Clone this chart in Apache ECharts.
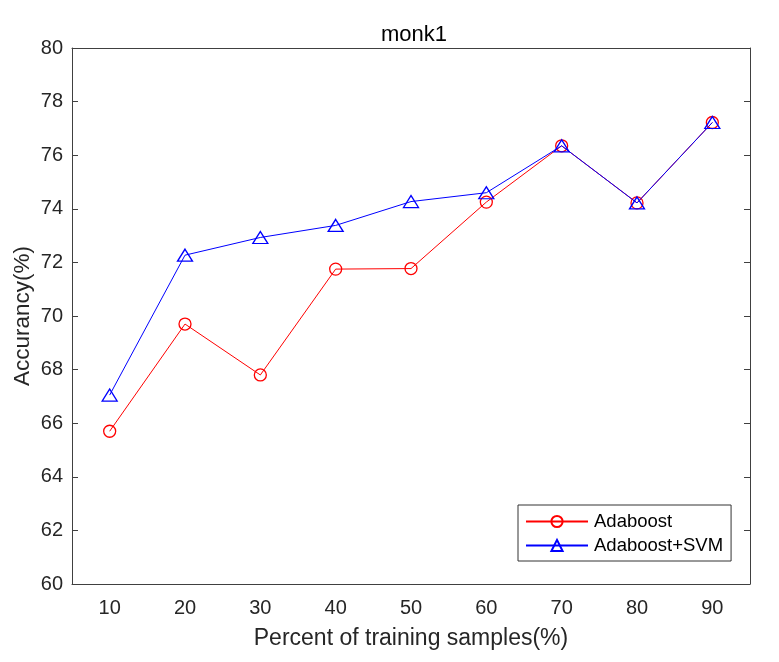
<!DOCTYPE html>
<html>
<head>
<meta charset="utf-8">
<script src="https://cdn.jsdelivr.net/npm/echarts@6/dist/echarts.min.js"></script>
<style>
  html, body { margin: 0; padding: 0; background: #fff; }
  #chart { width: 779px; height: 662px; }
</style>
</head>
<body>
<div id="chart"></div>
<script>
// monk1 accuracy vs. training samples
const categories = ['10', '20', '30', '40', '50', '60', '70', '80', '90'];
const adaboost = [65.7, 69.7, 67.8, 71.75, 71.77, 74.25, 76.35, 74.22, 77.22];
const adaboostSvm = [67.05, 72.27, 72.93, 73.38, 74.27, 74.6, 76.35, 74.22, 77.22];
const yMin = 60, yMax = 80, yStep = 2;

const FONT = '"Liberation Sans", Arial, Helvetica, sans-serif';
const AXIS = '#404040';

const chart = echarts.init(document.getElementById('chart'));

const baseX = {
  type: 'category',
  data: categories,
  boundaryGap: true,
  axisLine: { lineStyle: { color: AXIS, width: 1 } },
  axisTick: { inside: true, alignWithLabel: true, length: 6, lineStyle: { color: AXIS } },
  splitLine: { show: false },
};
const baseY = {
  type: 'value',
  min: yMin,
  max: yMax,
  interval: yStep,
  axisLine: { show: true, lineStyle: { color: AXIS, width: 1 } },
  axisTick: { show: true, inside: true, length: 6, lineStyle: { color: AXIS } },
  splitLine: { show: false },
};

chart.setOption({
  animation: false,
  backgroundColor: '#fff',
  textStyle: { fontFamily: FONT },
  title: {
    text: 'monk1',
    left: 409,
    textAlign: 'center',
    top: 19,
    textStyle: { fontSize: 22, fontWeight: 'normal', color: '#000', fontFamily: FONT },
  },
  grid: { left: 72, right: 29, top: 48, bottom: 78 },
  legend: {
    orient: 'vertical',
    left: 518,
    top: 505,
    width: 212,
    padding: [7, 8, 6, 7],
    itemGap: 5,
    itemWidth: 62,
    itemHeight: 14,
    borderColor: '#333',
    borderWidth: 1,
    borderRadius: 0,
    backgroundColor: '#fff',
    textStyle: { fontSize: 18.5, color: '#000', fontFamily: FONT, padding: [0, 0, 0, 1] },
    data: ['Adaboost', 'Adaboost+SVM'],
  },
  xAxis: [
    Object.assign({}, baseX, {
      position: 'bottom',
      name: 'Percent of training samples(%)',
      nameLocation: 'middle',
      nameGap: 43,
      nameMoveOverlap: false,
      nameTextStyle: { fontSize: 23, color: '#262626', fontFamily: FONT },
      axisLabel: { fontSize: 20, color: '#262626', margin: 14, fontFamily: FONT },
    }),
    Object.assign({}, baseX, { position: 'top', axisLabel: { show: false } }),
  ],
  yAxis: [
    Object.assign({}, baseY, {
      position: 'left',
      name: 'Accurancy(%)',
      nameLocation: 'middle',
      nameGap: 38,
      nameMoveOverlap: false,
      nameTextStyle: { fontSize: 22.5, color: '#262626', fontFamily: FONT },
      axisLabel: { fontSize: 20, color: '#262626', margin: 9, fontFamily: FONT },
    }),
    Object.assign({}, baseY, { position: 'right', axisLabel: { show: false } }),
  ],
  series: [
    {
      name: 'Adaboost',
      type: 'line',
      data: adaboost,
      symbol: 'circle',
      symbolSize: 12,
      lineStyle: { color: '#ff0000', width: 1 },
      itemStyle: { color: 'rgba(255,255,255,0)', borderColor: '#ff0000', borderWidth: 1.3 },
      z: 2,
    },
    {
      name: 'Adaboost+SVM',
      type: 'line',
      data: adaboostSvm,
      symbol: 'triangle',
      symbolSize: [15, 12],
      lineStyle: { color: '#0000ff', width: 1 },
      itemStyle: { color: 'rgba(255,255,255,0)', borderColor: '#0000ff', borderWidth: 1.3 },
      z: 3,
    },
  ],
});
</script>
</body>
</html>
